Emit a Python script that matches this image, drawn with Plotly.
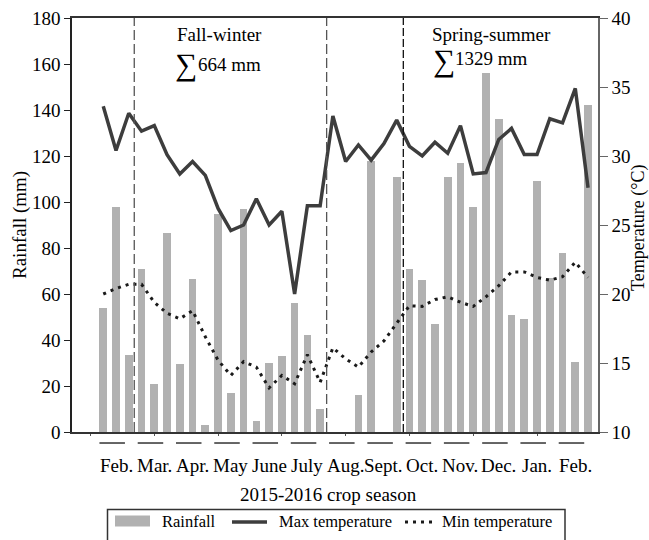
import plotly.graph_objects as go

# ---- data (10-day periods, Feb 2015 - Feb 2016) ----
period = list(range(39))
rainfall = [54, 98, 33.5, 71, 21, 86.5, 29.6, 66.5, 3, 95, 17, 97, 5, 30, 33, 56, 42, 10,
            0, 0, 16, 118, 0, 111, 71, 66, 47, 111, 117, 98, 156, 136, 51, 49, 109, 67, 78, 30.5, 142]
max_temp = [33.6, 30.4, 33.1, 31.8, 32.2, 30.1, 28.7, 29.6, 28.6, 26.2, 24.6, 25.0, 26.9, 25.0, 26.0, 20.0,
            26.4, 26.4, 32.9, 29.6, 30.8, 29.7, 30.9, 32.6, 30.7, 30.0, 31.0, 30.2, 32.2, 28.7, 28.8,
            31.2, 32.0, 30.1, 30.1, 32.7, 32.4, 34.9, 27.7]
min_temp = [20.0, 20.4, 20.7, 20.7, 19.4, 18.6, 18.2, 18.8, 16.9, 15.2, 14.1, 15.1, 14.7, 13.2, 14.1, 13.5,
            15.6, 13.6, 16.1, 15.3, 14.7, 15.8, 16.6, 17.9, 19.15, 19.1, 19.6, 19.8, 19.4, 19.1, 19.8,
            20.6, 21.6, 21.6, 21.2, 21.0, 21.25, 22.3, 21.2]
months = ["Feb.", "Mar.", "Apr.", "May", "June", "July", "Aug.", "Sept.", "Oct.", "Nov.", "Dec.", "Jan.", "Feb."]
season_breaks = [2.43, 17.51, 23.52]

FONT = "Liberation Serif"
BAR_COLOR = "#b1b1b1"
MAX_COLOR = "#3d3d3d"
MIN_COLOR = "#1a1a1a"

fig = go.Figure()
fig.add_trace(go.Bar(x=period, y=rainfall, width=0.6, marker=dict(color=BAR_COLOR, line=dict(width=0)),
                     name="Rainfall"))
fig.add_trace(go.Scatter(x=period, y=max_temp, yaxis="y2", mode="lines",
                         line=dict(color=MAX_COLOR, width=3.5), name="Max temperature"))
fig.add_trace(go.Scatter(x=period, y=min_temp, yaxis="y2", mode="lines",
                         line=dict(color=MIN_COLOR, width=3, dash="3px,5px"), name="Min temperature"))

shapes = []
# season separators
for i, xb in enumerate(season_breaks):
    shapes.append(dict(type="line", xref="x", yref="paper", x0=xb, x1=xb, y0=0, y1=1,
                       line=dict(color="#555" if i < 2 else "#111", width=1.3,
                                 dash="10px,4px" if i < 2 else "8px,3px")))
# month underline segments
for m in range(len(months)):
    shapes.append(dict(type="line", xref="x", yref="paper", x0=3 * m - 0.3, x1=3 * m + 1.7,
                       y0=-0.0266, y1=-0.0266, line=dict(color="#555", width=1.8)))


def px2x(px):
    return (px - 72) / 526


def py2y(py):
    return (432 - py) / 414


# custom legend
shapes.append(dict(type="rect", xref="paper", yref="paper", x0=px2x(107.5), x1=px2x(565),
                   y0=py2y(509.5), y1=py2y(548), line=dict(color="#333", width=1.5), fillcolor="rgba(0,0,0,0)"))
shapes.append(dict(type="rect", xref="paper", yref="paper", x0=px2x(115), x1=px2x(150),
                   y0=py2y(515.5), y1=py2y(526.5), line=dict(width=0), fillcolor=BAR_COLOR))
shapes.append(dict(type="line", xref="paper", yref="paper", x0=px2x(232), x1=px2x(267),
                   y0=py2y(522), y1=py2y(522), line=dict(color=MAX_COLOR, width=3.5)))
shapes.append(dict(type="line", xref="paper", yref="paper", x0=px2x(405), x1=px2x(432),
                   y0=py2y(522), y1=py2y(522), line=dict(color=MIN_COLOR, width=3, dash="3px,5px")))

annotations = []
tf = dict(family=FONT, size=19, color="black")
lf = dict(family=FONT, size=16.5, color="black")
sf = dict(family=FONT, size=31, color="black")
for m, lab in enumerate(months):
    annotations.append(dict(x=3 * m + 1, y=py2y(466), xref="x", yref="paper", text=lab, showarrow=False,
                            xanchor="center", yanchor="middle", font=tf))
annotations += [
    dict(x=px2x(328), y=py2y(494), xref="paper", yref="paper", text="2015-2016 crop season",
         showarrow=False, xanchor="center", yanchor="middle", font=tf),
    dict(x=px2x(20), y=py2y(225), xref="paper", yref="paper", text="Rainfall (mm)", textangle=-90,
         showarrow=False, xanchor="center", yanchor="middle", font=tf),
    dict(x=px2x(638), y=py2y(228), xref="paper", yref="paper", text="Temperature (°C)", textangle=-90,
         showarrow=False, xanchor="center", yanchor="middle", font=dict(family=FONT, size=18, color="black")),
    dict(x=px2x(219), y=py2y(35), xref="paper", yref="paper", text="Fall-winter",
         showarrow=False, xanchor="center", yanchor="middle", font=tf),
    dict(x=px2x(186), y=py2y(65), xref="paper", yref="paper", text="∑",
         showarrow=False, xanchor="center", yanchor="middle", font=sf),
    dict(x=px2x(196), y=py2y(64.5), xref="paper", yref="paper", text="664 mm",
         showarrow=False, xanchor="left", yanchor="middle", font=tf),
    dict(x=px2x(491.7), y=py2y(35), xref="paper", yref="paper", text="Spring-summer",
         showarrow=False, xanchor="center", yanchor="middle", font=tf),
    dict(x=px2x(444), y=py2y(60), xref="paper", yref="paper", text="∑",
         showarrow=False, xanchor="center", yanchor="middle", font=sf),
    dict(x=px2x(453), y=py2y(58.5), xref="paper", yref="paper", text="1329 mm",
         showarrow=False, xanchor="left", yanchor="middle", font=tf),
    dict(x=px2x(160), y=py2y(521.5), xref="paper", yref="paper", text="Rainfall",
         showarrow=False, xanchor="left", yanchor="middle", font=lf),
    dict(x=px2x(276.7), y=py2y(521.5), xref="paper", yref="paper", text="Max temperature",
         showarrow=False, xanchor="left", yanchor="middle", font=lf),
    dict(x=px2x(440), y=py2y(521.5), xref="paper", yref="paper", text="Min temperature",
         showarrow=False, xanchor="left", yanchor="middle", font=lf),
]

fig.update_layout(
    template="none",
    width=649, height=540,
    margin=dict(l=72, r=51, t=18, b=108),
    paper_bgcolor="white", plot_bgcolor="white",
    showlegend=False,
    bargap=0,
    font=dict(family=FONT, size=19, color="black"),
    xaxis=dict(range=[-2.45, 38.78], showline=True, mirror=True, linecolor="#333", linewidth=1.5,
               ticks="outside", tickvals=list(range(-1, 39, 5)), ticklen=2, tickcolor="#555",
               showticklabels=False, showgrid=False, zeroline=False, automargin=False),
    yaxis=dict(range=[0, 180], tickvals=list(range(0, 181, 20)), ticks="outside", ticklen=6,
               tickcolor="#222", linecolor="#222", linewidth=1.5, showline=True, showgrid=False,
               zeroline=False, tickfont=tf, automargin=False),
    yaxis2=dict(range=[10, 40], tickvals=list(range(10, 41, 5)), overlaying="y", side="right",
                ticks="outside", ticklen=8, tickcolor="#666", linecolor="#666", linewidth=1.5,
                showline=True, showgrid=False, zeroline=False, tickfont=tf, automargin=False),
    shapes=shapes,
    annotations=annotations,
)

fig.write_html("out.html", config={"displayModeBar": False},
               post_script="document.body.style.margin='0';document.body.style.overflow='hidden';")
